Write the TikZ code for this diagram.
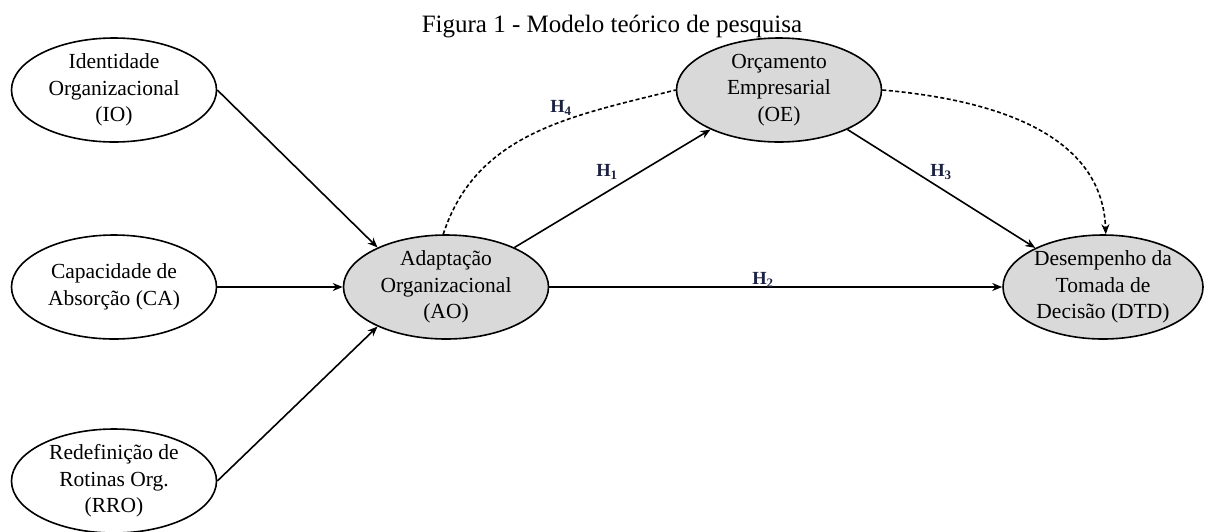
\documentclass[tikz,border=0pt]{standalone}
\usepackage{fontspec}
\setmainfont{Liberation Serif}
\usetikzlibrary{shapes.geometric,arrows.meta}
\definecolor{hnavy}{HTML}{1B2140}
\definecolor{latfill}{HTML}{D9D9D9}
\tikzset{
  construct/.style={ellipse, draw, line width=1.6pt, minimum width=205pt, minimum height=104pt,
    inner sep=0pt, align=center, font=\fontsize{21.5}{26.7}\selectfont},
  latent/.style={construct, fill=latfill},
  link/.style={line width=1.6pt, -{Stealth[length=10pt,width=8pt]}},
  dlink/.style={line width=1.6pt, dash pattern=on 4pt off 2.5pt},
  hyp/.style={font=\fontsize{18.5}{20}\selectfont\bfseries, text=hnavy, inner sep=0pt}
}
\begin{document}
\begin{tikzpicture}[x=1pt,y=-1pt]
\useasboundingbox (0,0) rectangle (1206,531);
\node[font=\fontsize{25}{28}\selectfont, anchor=base] (title) at (612,32) {Figura 1 - Modelo teórico de pesquisa};
\node[construct] (IO) at (114,90) {Identidade\\Organizacional\\(IO)};
\node[construct] (CA) at (114,287) {Capacidade de\\Absorção (CA)};
\node[construct] (RRO) at (114,481) {Redefinição de\\Rotinas Org.\\(RRO)};
\node[latent] (AO) at (446,287) {Adaptação\\Organizacional\\(AO)};
\node[latent] (OE) at (779,90) {Orçamento\\Empresarial\\(OE)};
\node[latent, minimum width=200pt] (DTD) at (1103,287) {Desempenho da\\Tomada de\\Decisão (DTD)};
\draw[link] (IO.east) -- (AO.150);
\draw[link] (CA.east) -- (AO.west);
\draw[link] (RRO.east) -- (AO.210);
\draw[link] (AO.30) -- (OE.210);
\draw[link] (AO.east) -- (DTD.west);
\draw[link] (OE.330) -- (DTD.150);
\draw[dlink] (AO.93) to[out=72,in=194] (OE.west);
\draw[dlink, -{Stealth[length=10pt,width=8pt]}] (OE.east) to[out=-5,in=92] (DTD.87);
\node[hyp] (h4) at (561,108) {H\textsubscript{4}};
\node[hyp] (h1) at (607,172) {H\textsubscript{1}};
\node[hyp] (h3) at (941,172) {H\textsubscript{3}};
\node[hyp] (h2) at (763,280) {H\textsubscript{2}};
\end{tikzpicture}
\end{document}
